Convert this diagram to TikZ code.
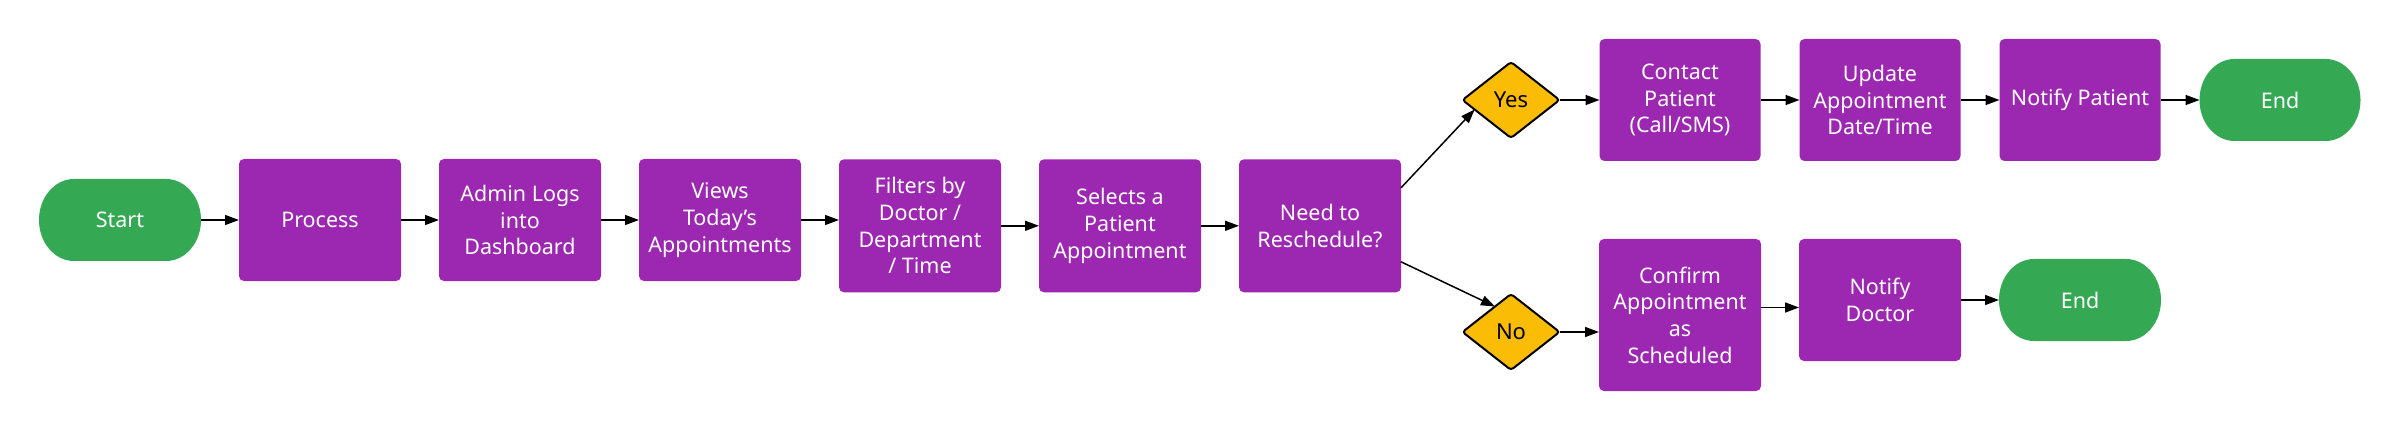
\documentclass[tikz,border=0pt]{standalone}
\usepackage{fontspec}
\setmainfont{Noto Sans}
\usetikzlibrary{shapes.geometric,arrows.meta,calc}
\definecolor{boxpurple}{HTML}{9C27B0}
\definecolor{termgreen}{HTML}{34A853}
\definecolor{decyellow}{HTML}{FBBC05}
\pgfdeclarelayer{background}
\pgfsetlayers{background,main}
\newcommand\termbg[1]{\fill[termgreen] ($(#1.north west)+(35,0)$) -- ($(#1.north east)+(-35,0)$) arc[start angle=90,end angle=-90,x radius=35pt,y radius=41pt] -- ($(#1.south west)+(35,0)$) arc[start angle=270,end angle=90,x radius=35pt,y radius=41pt] -- cycle;}
\begin{document}
\begin{tikzpicture}[x=1pt,y=-1pt,
  boxnode/.style={rectangle,rounded corners=5pt,fill=boxpurple,text=white,inner sep=0pt,outer sep=0pt,minimum width=162pt,align=center,font=\fontsize{21.5}{26.7}\selectfont},
  termnode/.style={rectangle,inner sep=0pt,outer sep=0pt,minimum width=162pt,minimum height=82pt,text=white,font=\fontsize{21.5}{26.7}\selectfont},
  decnode/.style={diamond,aspect=1.27,draw=black,line width=2pt,rounded corners=3pt,fill=decyellow,text=black,inner sep=0pt,outer sep=0pt,minimum width=97pt,minimum height=76pt,font=\fontsize{22}{26}\selectfont},
  arr/.style={-{Triangle[length=14pt,width=10pt]},line width=1.5pt,black}]
\useasboundingbox (0,0) rectangle (2400,430);
% nodes
\node[termnode] (start) at (120,220) {Start};
\node[boxnode,minimum height=122pt] (process) at (320,220) {Process};
\node[boxnode,minimum height=122pt] (admin) at (520,220) {Admin Logs\\into\\Dashboard};
\node[boxnode,minimum height=122pt] (views) at (720,220) {Views\\Today's\\Appointments};
\node[boxnode,minimum height=133pt] (filters) at (920,225.8) {Filters by\\Doctor /\\Department\\/ Time};
\node[boxnode,minimum height=133pt] (selects) at (1120,225.8) {Selects a\\Patient\\Appointment};
\node[boxnode,minimum height=133pt] (need) at (1320,225.8) {Need to\\Reschedule?};
\node[decnode] (yes) at (1511,100) {Yes};
\node[boxnode,minimum width=161pt,minimum height=122pt] (contact) at (1680,100) {Contact\\Patient\\(Call/SMS)};
\node[boxnode,minimum width=161pt,minimum height=122pt] (update) at (1880,100) {Update\\Appointment\\Date/Time};
\node[boxnode,minimum width=161pt,minimum height=122pt] (notifyp) at (2080,100) {Notify Patient};
\node[termnode,minimum width=161pt] (endA) at (2280,100) {End};
\node[decnode] (no) at (1511,332) {No};
\node[boxnode,minimum height=152pt] (confirm) at (1680,315) {Confirm\\Appointment\\as\\Scheduled};
\node[boxnode,minimum height=122pt] (notifyd) at (1880,300) {Notify\\Doctor};
\node[termnode] (endB) at (2080,300) {End};
\begin{pgfonlayer}{background}
\fill[white] (0,0) rectangle (2400,430);
\termbg{start}
\termbg{endA}
\termbg{endB}
\end{pgfonlayer}
% connectors
\draw[arr] (start) -- (process);
\draw[arr] (process) -- (admin);
\draw[arr] (admin) -- (views);
\draw[arr] (views.east) -- (views.east -| filters.west);
\draw[arr] (filters) -- (selects);
\draw[arr] (selects) -- (need);
\draw[arr] ($(need.east)+(0,-38)$) -- ($(yes.west)!0.25!(yes.south)$);
\draw[arr] ($(need.east)+(0,36)$) -- ($(no.west)!0.67!(no.north)$);
\draw[arr] (yes.east) -- (contact.west);
\draw[arr] (contact) -- (update);
\draw[arr] (update) -- (notifyp);
\draw[arr] (notifyp) -- (endA);
\draw[arr] (no.east) -- (no.east -| confirm.west);
\coordinate (cn) at ($(confirm.east)!0.5!(notifyd.west)$);
\draw[arr] (confirm.east |- cn) -- (cn -| notifyd.west);
\draw[arr] (notifyd) -- (endB);
\end{tikzpicture}
\end{document}
